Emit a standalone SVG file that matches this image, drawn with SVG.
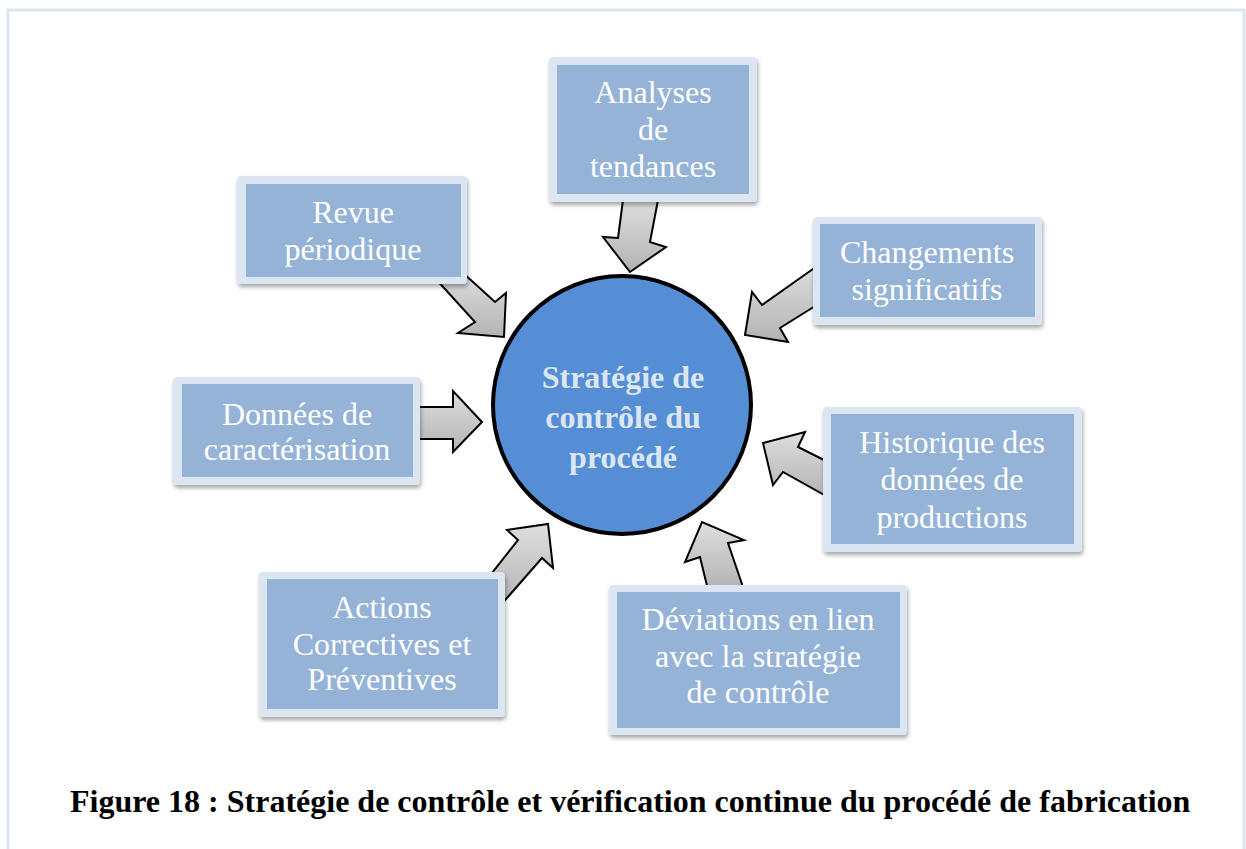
<svg xmlns="http://www.w3.org/2000/svg" width="1246" height="849" viewBox="0 0 1246 849">
<style>
.frame{fill:#ffffff;stroke:#dbe5f1;stroke-width:3}
.outer{fill:#dce6f2}
.inner{fill:#95b3d7}
.lbl{font-family:"Liberation Serif","Times New Roman",serif;font-size:32px;fill:#ffffff;text-anchor:middle}
.ctr{font-family:"Liberation Serif","Times New Roman",serif;font-size:32px;font-weight:bold;fill:#dce6f2;text-anchor:middle}
.cap{font-family:"Liberation Serif","Times New Roman",serif;font-size:32px;font-weight:bold;fill:#000000}
.arr{fill:url(#g);stroke:#000000;stroke-width:2;stroke-linejoin:miter}
</style>
<defs>
<linearGradient id="g" x1="0" y1="0" x2="0" y2="1">
<stop offset="0" stop-color="#dedede"/>
<stop offset="1" stop-color="#b3b3b3"/>
</linearGradient>
<filter id="sh" x="-10%" y="-10%" width="120%" height="130%">
<feDropShadow dx="1" dy="3" stdDeviation="2" flood-color="#000000" flood-opacity="0.35"/>
</filter>
</defs>
<rect class="frame" x="8" y="10" width="1236" height="860"/>
<g id="connectors">
<polygon class="arr" points="623,200 618,238 603,237 630,272 666,247 650,242 658,200"/>
<polygon class="arr" points="462,272 495,302 506,293 504,337 458,333 475,322 435,278"/>
<polygon class="arr" points="820,264 762,305 752,292 745,335 788,342 780,328 820,303"/>
<polygon class="arr" points="415,407 453,407 453,391 482,422 453,452 453,439 415,439"/>
<polygon class="arr" points="828,462 798,447 805,432 763,443 773,485 783,472 828,497"/>
<polygon class="arr" points="488,578 518,540 507,530 548,524 553,568 542,558 500,606"/>
<polygon class="arr" points="708,590 700,557 685,562 702,522 744,540 728,543 744,590"/>
</g>
<g id="center">
<circle cx="622" cy="405" r="129" fill="#558ed5" stroke="#000000" stroke-width="4"/>
<text class="ctr" x="623" y="388">Stratégie de</text>
<text class="ctr" x="623" y="428">contrôle du</text>
<text class="ctr" x="623" y="468">procédé</text>
</g>
<g id="analyses">
<rect class="outer" x="549" y="57" width="208" height="145" rx="4" filter="url(#sh)"/>
<rect class="inner" x="557" y="65" width="192" height="129"/>
<text class="lbl" x="653" y="103">Analyses</text>
<text class="lbl" x="653" y="140">de</text>
<text class="lbl" x="653" y="177">tendances</text>
</g>
<g id="revue">
<rect class="outer" x="237" y="176" width="230" height="108" rx="4" filter="url(#sh)"/>
<rect class="inner" x="246" y="184" width="215" height="93"/>
<text class="lbl" x="353" y="223">Revue</text>
<text class="lbl" x="353" y="260">périodique</text>
</g>
<g id="changements">
<rect class="outer" x="813" y="217" width="229" height="108" rx="4" filter="url(#sh)"/>
<rect class="inner" x="820" y="224" width="215" height="93"/>
<text class="lbl" x="927" y="263">Changements</text>
<text class="lbl" x="927" y="300">significatifs</text>
</g>
<g id="donnees">
<rect class="outer" x="173" y="377" width="247" height="108" rx="4" filter="url(#sh)"/>
<rect class="inner" x="182" y="384" width="231" height="93"/>
<text class="lbl" x="297" y="425">Données de</text>
<text class="lbl" x="297" y="460">caractérisation</text>
</g>
<g id="historique">
<rect class="outer" x="823" y="407" width="259" height="145" rx="4" filter="url(#sh)"/>
<rect class="inner" x="831" y="414" width="243" height="130"/>
<text class="lbl" x="952" y="453">Historique des</text>
<text class="lbl" x="952" y="490">données de</text>
<text class="lbl" x="952" y="528">productions</text>
</g>
<g id="actions">
<rect class="outer" x="259" y="572" width="246" height="145" rx="4" filter="url(#sh)"/>
<rect class="inner" x="267" y="579" width="231" height="130"/>
<text class="lbl" x="382" y="618">Actions</text>
<text class="lbl" x="382" y="655">Correctives et</text>
<text class="lbl" x="382" y="690">Préventives</text>
</g>
<g id="deviations">
<rect class="outer" x="609" y="585" width="298" height="150" rx="4" filter="url(#sh)"/>
<rect class="inner" x="617" y="592" width="283" height="136"/>
<text class="lbl" x="758" y="630">Déviations en lien</text>
<text class="lbl" x="758" y="667">avec la stratégie</text>
<text class="lbl" x="758" y="703">de contrôle</text>
</g>
<text class="cap" x="70" y="812">Figure 18 : Stratégie de contrôle et vérification continue du procédé de fabrication</text>
</svg>
